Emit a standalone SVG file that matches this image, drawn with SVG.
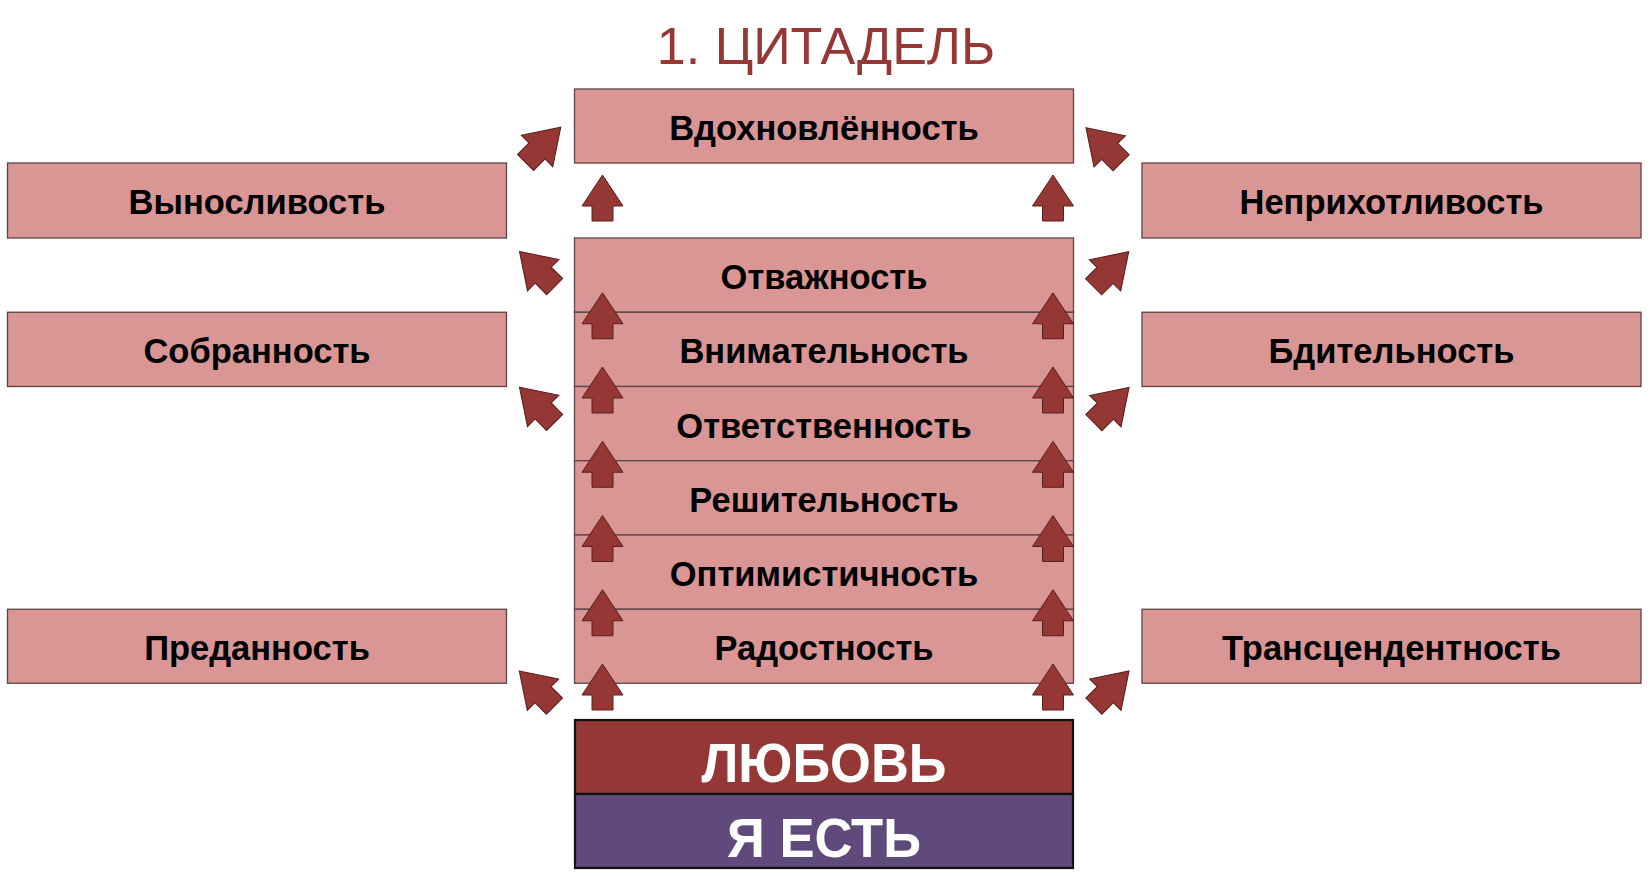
<svg xmlns="http://www.w3.org/2000/svg" xmlns:xlink="http://www.w3.org/1999/xlink" width="1650" height="876" viewBox="0 0 1650 876">
<style>
.box{fill:#d99694;stroke:#5c4444;stroke-width:1.3}
.lbl{font-family:"Liberation Sans",Arial,sans-serif;font-weight:bold;font-size:34.5px;fill:#000;text-anchor:middle}
.big{font-family:"Liberation Sans",Arial,sans-serif;font-weight:bold;font-size:55px;fill:#fff;text-anchor:middle}
.title{font-family:"Liberation Sans",Arial,sans-serif;font-size:52px;fill:#953735;text-anchor:middle}
.arr{fill:#953735;stroke:#5a1f1f;stroke-width:1}
</style>
<defs>
<path id="a" d="M0,0 L20.5,31 L10.5,31 L10.5,46 L-10.5,46 L-10.5,31 L-20.5,31 Z"/>
</defs>
<rect width="1650" height="876" fill="#fff"/>
<text class="title" x="826" y="64">1. ЦИТАДЕЛЬ</text>

<g id="n-vdohnovlennost"><rect class="box" x="574.5" y="89" width="499" height="74"/><text class="lbl" x="824" y="140">Вдохновлённость</text></g>
<g id="n-vynoslivost"><rect class="box" x="7.5" y="163" width="499" height="75"/><text class="lbl" x="257" y="214">Выносливость</text></g>
<g id="n-neprihotlivost"><rect class="box" x="1142" y="163" width="499" height="75"/><text class="lbl" x="1391.5" y="214">Неприхотливость</text></g>
<g id="n-otvazhnost"><rect class="box" x="574.5" y="238" width="499" height="74.25"/><text class="lbl" x="824" y="289">Отважность</text></g>
<g id="n-sobrannost"><rect class="box" x="7.5" y="312.25" width="499" height="74.25"/><text class="lbl" x="257" y="363">Собранность</text></g>
<g id="n-vnimatelnost"><rect class="box" x="574.5" y="312.25" width="499" height="74.25"/><text class="lbl" x="824" y="363">Внимательность</text></g>
<g id="n-bditelnost"><rect class="box" x="1142" y="312.25" width="499" height="74.25"/><text class="lbl" x="1391.5" y="363">Бдительность</text></g>
<g id="n-otvetstvennost"><rect class="box" x="574.5" y="386.5" width="499" height="74.25"/><text class="lbl" x="824" y="437.5">Ответственность</text></g>
<g id="n-reshitelnost"><rect class="box" x="574.5" y="460.75" width="499" height="74.25"/><text class="lbl" x="824" y="512">Решительность</text></g>
<g id="n-optimistichnost"><rect class="box" x="574.5" y="535" width="499" height="74.25"/><text class="lbl" x="824" y="586">Оптимистичность</text></g>
<g id="n-predannost"><rect class="box" x="7.5" y="609.25" width="499" height="74"/><text class="lbl" x="257" y="660">Преданность</text></g>
<g id="n-radostnost"><rect class="box" x="574.5" y="609.25" width="499" height="74"/><text class="lbl" x="824" y="660">Радостность</text></g>
<g id="n-transcendentnost"><rect class="box" x="1142" y="609.25" width="499" height="74"/><text class="lbl" x="1391.5" y="660">Трансцендентность</text></g>
<g id="n-lubov"><rect x="575" y="720" width="498" height="74" fill="#953735" stroke="#111" stroke-width="2.2"/><text class="big" x="824" y="782" textLength="245" lengthAdjust="spacingAndGlyphs">ЛЮБОВЬ</text></g>
<g id="n-ya-est"><rect x="575" y="794" width="498" height="74" fill="#604a7b" stroke="#111" stroke-width="2.2"/><text class="big" x="824" y="857" textLength="194" lengthAdjust="spacingAndGlyphs">Я ЕСТЬ</text></g>

<g id="connectors" class="arr">
<use xlink:href="#a" transform="translate(602.5,175)"/>
<use xlink:href="#a" transform="translate(602.5,292.75)"/>
<use xlink:href="#a" transform="translate(602.5,367)"/>
<use xlink:href="#a" transform="translate(602.5,441.25)"/>
<use xlink:href="#a" transform="translate(602.5,515.5)"/>
<use xlink:href="#a" transform="translate(602.5,589.75)"/>
<use xlink:href="#a" transform="translate(602.5,664)"/>
<use xlink:href="#a" transform="translate(1053,175)"/>
<use xlink:href="#a" transform="translate(1053,292.75)"/>
<use xlink:href="#a" transform="translate(1053,367)"/>
<use xlink:href="#a" transform="translate(1053,441.25)"/>
<use xlink:href="#a" transform="translate(1053,515.5)"/>
<use xlink:href="#a" transform="translate(1053,589.75)"/>
<use xlink:href="#a" transform="translate(1053,664)"/>
<use xlink:href="#a" transform="translate(560.7,127.3) rotate(45) scale(1.08)"/>
<use xlink:href="#a" transform="translate(519.5,251.5) rotate(-45) scale(1.08)"/>
<use xlink:href="#a" transform="translate(519.5,387.3) rotate(-45) scale(1.08)"/>
<use xlink:href="#a" transform="translate(519.3,671) rotate(-45) scale(1.08)"/>
<use xlink:href="#a" transform="translate(1086,127.7) rotate(-45) scale(1.08)"/>
<use xlink:href="#a" transform="translate(1128.7,251.7) rotate(45) scale(1.08)"/>
<use xlink:href="#a" transform="translate(1129,387.5) rotate(45) scale(1.08)"/>
<use xlink:href="#a" transform="translate(1129,671) rotate(45) scale(1.08)"/>
</g>
</svg>
